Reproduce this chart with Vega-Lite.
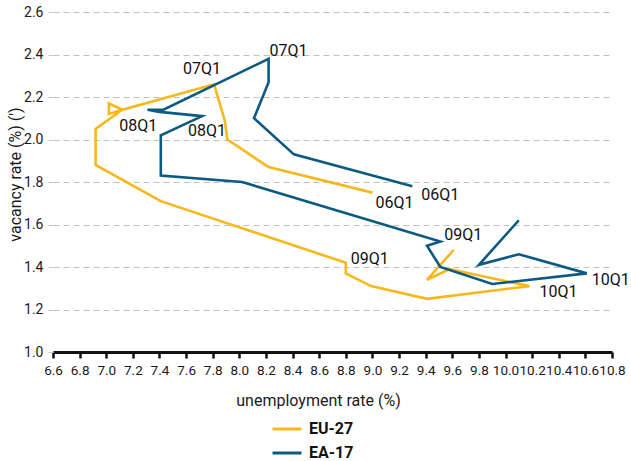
{
  "$schema": "https://vega.github.io/schema/vega-lite/v6.json",
  "width": 559,
  "height": 340,
  "autosize": "none",
  "padding": {"left": 53, "top": 12, "right": 19, "bottom": 109},
  "background": "white",
  "config": {
    "view": {"stroke": null},
    "font": "Roboto",
    "axis": {"labelFont": "Roboto", "titleFont": "Roboto", "labelColor": "#1a1a1a", "titleColor": "#1a1a1a", "titleFontWeight": "normal"},
    "legend": {"labelFont": "Roboto"}
  },
  "data": {
    "values": [
      {"s": "EU-27", "q": "06Q1", "u": 9.0, "v": 1.75},
      {"s": "EU-27", "q": "06Q2", "u": 8.22, "v": 1.87},
      {"s": "EU-27", "q": "06Q3", "u": 7.91, "v": 2.0},
      {"s": "EU-27", "q": "06Q4", "u": 7.89, "v": 2.09},
      {"s": "EU-27", "q": "07Q1", "u": 7.81, "v": 2.26},
      {"s": "EU-27", "q": "07Q2", "u": 7.12, "v": 2.14},
      {"s": "EU-27", "q": "07Q3", "u": 7.02, "v": 2.17},
      {"s": "EU-27", "q": "07Q4", "u": 7.02, "v": 2.12},
      {"s": "EU-27", "q": "08Q1", "u": 7.12, "v": 2.14},
      {"s": "EU-27", "q": "08Q2", "u": 6.92, "v": 2.05},
      {"s": "EU-27", "q": "08Q3", "u": 6.92, "v": 1.88},
      {"s": "EU-27", "q": "08Q4", "u": 7.41, "v": 1.71},
      {"s": "EU-27", "q": "09Q1", "u": 8.8, "v": 1.42},
      {"s": "EU-27", "q": "09Q2", "u": 8.8, "v": 1.37},
      {"s": "EU-27", "q": "09Q3", "u": 8.99, "v": 1.31},
      {"s": "EU-27", "q": "09Q4", "u": 9.41, "v": 1.25},
      {"s": "EU-27", "q": "10Q1", "u": 10.18, "v": 1.31},
      {"s": "EU-27", "q": "10Q2", "u": 9.58, "v": 1.39},
      {"s": "EU-27", "q": "10Q3", "u": 9.41, "v": 1.34},
      {"s": "EU-27", "q": "10Q4", "u": 9.61, "v": 1.48},
      {"s": "EA-17", "q": "06Q1", "u": 9.3, "v": 1.78},
      {"s": "EA-17", "q": "06Q2", "u": 8.41, "v": 1.93},
      {"s": "EA-17", "q": "06Q3", "u": 8.11, "v": 2.1},
      {"s": "EA-17", "q": "06Q4", "u": 8.22, "v": 2.27},
      {"s": "EA-17", "q": "07Q1", "u": 8.22, "v": 2.38},
      {"s": "EA-17", "q": "07Q2", "u": 7.43, "v": 2.14},
      {"s": "EA-17", "q": "07Q3", "u": 7.31, "v": 2.14},
      {"s": "EA-17", "q": "07Q4", "u": 7.4, "v": 2.13},
      {"s": "EA-17", "q": "08Q1", "u": 7.72, "v": 2.11},
      {"s": "EA-17", "q": "08Q2", "u": 7.41, "v": 2.02},
      {"s": "EA-17", "q": "08Q3", "u": 7.41, "v": 1.83},
      {"s": "EA-17", "q": "08Q4", "u": 8.02, "v": 1.8},
      {"s": "EA-17", "q": "09Q1", "u": 9.51, "v": 1.52},
      {"s": "EA-17", "q": "09Q2", "u": 9.41, "v": 1.5},
      {"s": "EA-17", "q": "09Q3", "u": 9.51, "v": 1.4},
      {"s": "EA-17", "q": "09Q4", "u": 9.9, "v": 1.32},
      {"s": "EA-17", "q": "10Q1", "u": 10.61, "v": 1.37},
      {"s": "EA-17", "q": "10Q2", "u": 10.1, "v": 1.46},
      {"s": "EA-17", "q": "10Q3", "u": 9.8, "v": 1.41},
      {"s": "EA-17", "q": "10Q4", "u": 10.1, "v": 1.62}
    ]
  },
  "encoding": {
    "x": {"field": "u", "type": "quantitative", "scale": {"domain": [6.6, 10.8], "nice": false, "zero": false},
      "axis": {"title": "unemployment rate (%)", "values": [6.6,6.8,7.0,7.2,7.4,7.6,7.8,8.0,8.2,8.4,8.6,8.8,9.0,9.2,9.4,9.6,9.8,10.0,10.2,10.4,10.6,10.8],
        "format": ".1f", "grid": false, "domainColor": "#111111", "domainWidth": 3, "tickColor": "#111111", "tickWidth": 2.5, "tickSize": 6,
        "labelFontSize": 13.5, "labelPadding": 5, "labelBaseline": "top", "titleFontSize": 16, "titlePadding": 16, "titleX": 265, "titleAlign": "center", "labelOverlap": false, "labelFlush": false}},
    "y": {"field": "v", "type": "quantitative", "scale": {"domain": [1.0, 2.6], "nice": false, "zero": false},
      "axis": {"title": "vacancy rate (%) (')", "values": [1.0,1.2,1.4,1.6,1.8,2.0,2.2,2.4,2.6], "format": ".1f",
        "domain": false, "ticks": true, "tickColor": "#c8c8c8", "tickSize": 5, "grid": true, "gridColor": "#c0c0c0", "gridDash": [6, 4], "gridWidth": 1,
        "labelFontSize": 14, "labelPadding": 5, "titleFontSize": 16, "titleX": -38, "titleY": 162, "titleAlign": "center", "titleBaseline": "middle"}}
  },
  "layer": [
    {
      "mark": {"type": "line", "strokeWidth": 2.6, "strokeJoin": "miter"},
      "encoding": {
        "order": {"field": "q", "type": "ordinal"},
        "color": {"field": "s", "type": "nominal", "scale": {"domain": ["EU-27", "EA-17"], "range": ["#F8B81C", "#0B5A82"]},
          "legend": {"title": null, "orient": "none", "legendX": 218, "legendY": 401, "direction": "vertical", "symbolType": "stroke", "symbolStrokeWidth": 3, "symbolSize": 841,
            "labelFontSize": 16, "labelFontWeight": "bold", "labelColor": "#111111", "rowPadding": -8, "labelOffset": 6}}
      }
    },
    {
      "transform": [{"filter": "datum.s == 'EU-27' && datum.q == '06Q1'"}],
      "mark": {"type": "text", "align": "left", "baseline": "top", "dx": 3, "dy": 2, "fontSize": 16, "color": "#111111"},
      "encoding": {"text": {"field": "q"}}
    },
    {
      "transform": [{"filter": "datum.s == 'EA-17' && datum.q == '06Q1'"}],
      "mark": {"type": "text", "align": "left", "baseline": "middle", "dx": 9, "dy": 9, "fontSize": 16, "color": "#111111"},
      "encoding": {"text": {"field": "q"}}
    },
    {
      "transform": [{"filter": "datum.s == 'EU-27' && datum.q == '07Q1'"}],
      "mark": {"type": "text", "align": "right", "baseline": "bottom", "dx": 7, "dy": -7, "fontSize": 16, "color": "#111111"},
      "encoding": {"text": {"field": "q"}}
    },
    {
      "transform": [{"filter": "datum.s == 'EA-17' && datum.q == '07Q1'"}],
      "mark": {"type": "text", "align": "left", "baseline": "bottom", "dx": 1, "dy": 0, "fontSize": 16, "color": "#111111"},
      "encoding": {"text": {"field": "q"}}
    },
    {
      "transform": [{"filter": "datum.s == 'EU-27' && datum.q == '08Q1'"}],
      "mark": {"type": "text", "align": "left", "baseline": "top", "dx": -3, "dy": 8, "fontSize": 16, "color": "#111111"},
      "encoding": {"text": {"field": "q"}}
    },
    {
      "transform": [{"filter": "datum.s == 'EA-17' && datum.q == '08Q1'"}],
      "mark": {"type": "text", "align": "left", "baseline": "top", "dx": -14, "dy": 7, "fontSize": 16, "color": "#111111"},
      "encoding": {"text": {"field": "q"}}
    },
    {
      "transform": [{"filter": "datum.s == 'EU-27' && datum.q == '09Q1'"}],
      "mark": {"type": "text", "align": "left", "baseline": "bottom", "dx": 5, "dy": 4, "fontSize": 16, "color": "#111111"},
      "encoding": {"text": {"field": "q"}}
    },
    {
      "transform": [{"filter": "datum.s == 'EA-17' && datum.q == '09Q1'"}],
      "mark": {"type": "text", "align": "left", "baseline": "bottom", "dx": 4, "dy": 1, "fontSize": 16, "color": "#111111"},
      "encoding": {"text": {"field": "q"}}
    },
    {
      "transform": [{"filter": "datum.s == 'EU-27' && datum.q == '10Q1'"}],
      "mark": {"type": "text", "align": "left", "baseline": "top", "dx": 10, "dy": -2, "fontSize": 16, "color": "#111111"},
      "encoding": {"text": {"field": "q"}}
    },
    {
      "transform": [{"filter": "datum.s == 'EA-17' && datum.q == '10Q1'"}],
      "mark": {"type": "text", "align": "left", "baseline": "top", "dx": 5, "dy": -1, "fontSize": 16, "color": "#111111"},
      "encoding": {"text": {"field": "q"}}
    }
  ]
}
